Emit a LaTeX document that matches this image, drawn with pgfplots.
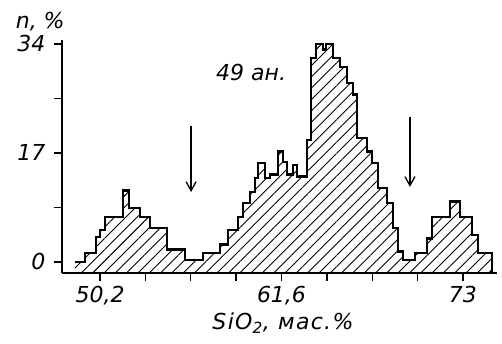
\documentclass[border=0pt]{standalone}
\usepackage{fontspec}
\setmainfont{DejaVu Sans}
\usepackage{pgfplots}
\pgfplotsset{compat=1.18}
\usepackage{pgfplotstable}
\usetikzlibrary{patterns.meta,arrows.meta}

\pgfplotstableread{
x y
48.63 -1.72
48.63 0
49.26 1.4
49.95 3.9
50.20 5.0
50.51 7.0
51.64 11.1
52.02 8.4
52.71 7.0
53.34 5.3
54.41 1.9
55.54 0.3
56.67 1.4
57.74 2.7
58.24 5.0
58.87 7.0
59.18 9.2
59.62 10.9
59.94 13.1
60.12 15.4
60.56 13.1
60.88 13.6
61.38 17.2
61.69 15.6
61.95 13.6
62.32 15.1
62.57 13.3
63.20 19.0
63.45 31.8
63.77 34.0
64.21 33.1
64.40 34.0
64.84 31.8
65.28 30.4
65.72 27.9
66.09 26.1
66.34 19.3
66.97 17.2
67.29 15.4
67.66 11.5
68.23 9.2
68.60 5.3
68.92 1.6
69.23 0.3
69.99 1.4
70.74 3.7
71.05 7.0
72.18 9.4
72.81 7.0
73.57 4.2
73.94 1.4
74.82 1.4
74.82 -1.72
}\histdata

\newcommand\lblfont{\fontsize{22}{25}\selectfont\itshape}

\begin{document}
\begin{tikzpicture}
\useasboundingbox (0,0) rectangle (502pt,343pt);
\begin{axis}[
  at={(62pt,70pt)}, anchor=south west,
  width=435pt, height=233pt, scale only axis,
  xmin=47.81, xmax=75.14, ymin=-1.72, ymax=34.6,
  axis lines*=left,
  axis line style={line width=1.5pt},
  clip=false,
  tick align=outside,
  major tick length=8pt,
  tick style={line width=1.4pt, black},
  xtick={50.2,53.05,55.9,58.75,61.6,64.45,67.3,70.15,73},
  xticklabels={{50,2},,,,{61,6},,,,73},
  ytick={0,8.5,17,25.5,34},
  yticklabels={0,,17,,34},
  /pgf/number format/assume math mode=true,
  ticklabel style={font=\lblfont},
  xticklabel style={yshift=-2pt},
  yticklabel style={xshift=-5pt},
  xlabel={\addfontfeature{LetterSpace=6}SiO\textsubscript{2}, мас.\%},
  xlabel style={at={(axis description cs:0.508,-0.215)}, anchor=center, font=\lblfont},
  ylabel={n, \%},
  ylabel style={at={(axis description cs:-0.05,1.077)}, anchor=center, rotate=-90, font=\lblfont},
]
% hatched area, down to the axis
\addplot[const plot, draw=none, pattern={Lines[angle=45,distance=8pt,line width=0.9pt]}]
  table {\histdata};
\addplot[const plot, draw=black, line width=2.6pt, line join=miter, skip coords between index={0}{1}]
  table {\histdata};
\draw[line width=1.3pt, -{Straight Barb[length=9pt,width=10pt]}] (axis cs:55.92,21.2) -- (axis cs:55.92,10.9);
\draw[line width=1.3pt, -{Straight Barb[length=9pt,width=10pt]}] (axis cs:69.67,22.6) -- (axis cs:69.67,11.7);
\node[font=\lblfont] at (axis cs:59.69,29.6) {49 ан.};
\end{axis}
\end{tikzpicture}
\end{document}
